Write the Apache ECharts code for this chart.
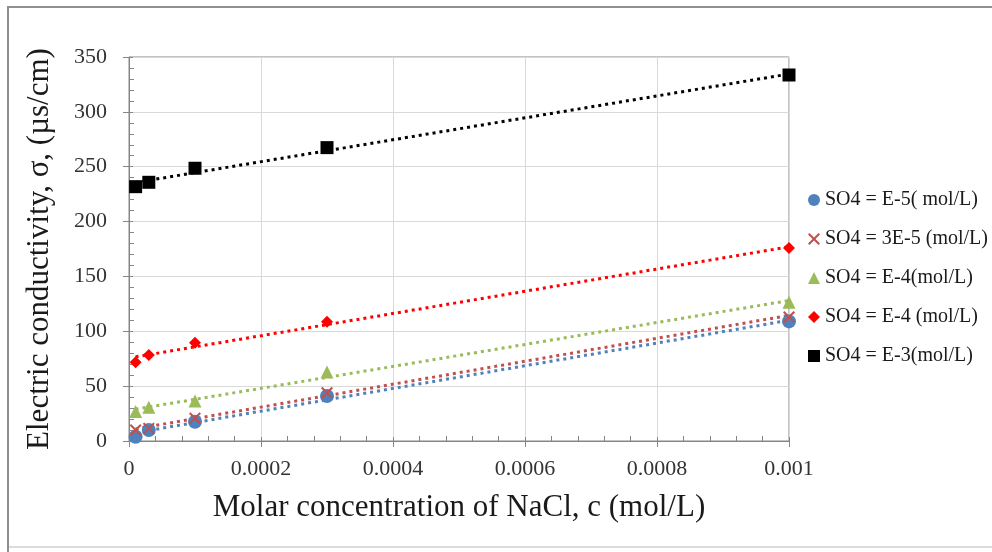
<!DOCTYPE html>
<html>
<head>
<meta charset="utf-8">
<script src="https://cdn.jsdelivr.net/npm/echarts@6/dist/echarts.min.js"></script>
<style>html,body{margin:0;padding:0;background:#fff;}#c{width:992px;height:552px;}</style>
</head>
<body>
<div id="c"></div>
<script>
// ---- data ----
var concentrations = [0.00001, 0.00003, 0.0001, 0.0003, 0.001];
var seriesNames = ['SO4 = E-5( mol/L)', 'SO4 = 3E-5 (mol/L)', 'SO4 = E-4(mol/L)', 'SO4 = E-4 (mol/L)', 'SO4 = E-3(mol/L)'];
var blueValues  = [3.9, 10, 17.6, 41, 109];
var crossValues = [10, 11.5, 20.7, 44, 113];
var greenValues = [27, 30.7, 36.5, 63, 126.5];
var redValues   = [71.7, 78.4, 89.6, 108.8, 176];
var blackValues = [231.8, 235.8, 248.6, 267.4, 333.6];
// linear trendline end values (at first and last concentration)
var trendX = [0.00001, 0.001];
var blueTrend  = [7.5, 110];
var crossTrend = [11, 114.5];
var greenTrend = [29, 128];
var redTrend   = [76.7, 177];
var blackTrend = [235.6, 334.5];
var yTicks = [0, 50, 100, 150, 200, 250, 300, 350];

var colors = ['#4f81bd', '#c0504d', '#9bbb59', '#ff0000', '#000000'];
var crossPath = 'path://M0,1.2 L1.2,0 L5,3.8 L8.8,0 L10,1.2 L6.2,5 L10,8.8 L8.8,10 L5,6.2 L1.2,10 L0,8.8 L3.8,5 Z';
var symbols = ['circle', crossPath, 'triangle', 'diamond', 'rect'];
var sizes = [14, 12, 13, 12, 13];
var values = [blueValues, crossValues, greenValues, redValues, blackValues];
var trends = [blueTrend, crossTrend, greenTrend, redTrend, blackTrend];

function pairs(xs, ys) { return xs.map(function (x, i) { return [x, ys[i]]; }); }

var series = [];
for (var i = 0; i < 5; i++) {
  series.push({
    name: seriesNames[i] + ' trend', type: 'line', data: pairs(trendX, trends[i]),
    showSymbol: false, symbol: 'none', silent: true, z: 2,
    lineStyle: { color: colors[i], width: 3, type: [3, 4], cap: 'butt' }
  });
}
for (var j = 0; j < 5; j++) {
  series.push({
    name: seriesNames[j], type: 'scatter', data: pairs(concentrations, values[j]),
    symbol: symbols[j], symbolSize: sizes[j], z: 5,
    itemStyle: { color: colors[j], opacity: 1 }
  });
}

var font = 'Liberation Serif, Times New Roman, serif';
var chart = echarts.init(document.getElementById('c'), null, { renderer: 'canvas' });
chart.setOption({
  animation: false,
  backgroundColor: '#ffffff',
  textStyle: { fontFamily: font },
  grid: { left: 129, right: 203, top: 57, bottom: 111, show: true, borderColor: '#868686', borderWidth: 1 },
  legend: {
    data: seriesNames.map(function (n, k) { return { name: n, icon: symbols[k] }; }),
    orient: 'vertical', left: 803, top: 185, itemWidth: 12, itemHeight: 12, itemGap: 19,
    textStyle: { fontFamily: font, fontSize: 20, color: '#1a1a1a' }
  },
  xAxis: [{
    type: 'value', min: 0, max: 0.001, interval: 0.0002,
    name: 'Molar concentration of NaCl, c (mol/L)', nameLocation: 'middle', nameGap: 51,
    nameTextStyle: { fontFamily: font, fontSize: 31, color: '#1a1a1a' },
    axisLine: { show: true, lineStyle: { color: '#868686', width: 1 } },
    axisTick: { show: true, inside: true, length: 4, lineStyle: { color: '#868686' } },
    minorTick: { show: true, splitNumber: 5, length: 5, lineStyle: { color: '#868686' } },
    splitLine: { show: true, lineStyle: { color: '#d9d9d9', width: 1 } },
    axisLabel: { fontFamily: font, fontSize: 22, color: '#333333', margin: 17,
      formatter: function (v) { return v === 0 ? '0' : String(+v.toFixed(4)); } }
  }, {
    type: 'value', min: 0, max: 0.001, interval: 0.0002, position: 'bottom',
    axisLine: { show: false }, axisLabel: { show: false }, splitLine: { show: false },
    axisTick: { show: true, inside: false, length: 6, lineStyle: { color: '#868686' } }
  }],
  yAxis: [{
    type: 'value', min: 0, max: 350, interval: 50,
    name: 'Electric conductivity, σ, (µs/cm)', nameLocation: 'middle', nameGap: 74,
    nameTextStyle: { fontFamily: font, fontSize: 31, color: '#1a1a1a' },
    axisLine: { show: true, lineStyle: { color: '#868686', width: 1 } },
    axisTick: { show: true, inside: true, length: 4, lineStyle: { color: '#868686' } },
    minorTick: { show: true, splitNumber: 5, length: 5, lineStyle: { color: '#868686' } },
    splitLine: { show: true, lineStyle: { color: '#d9d9d9', width: 1 } },
    axisLabel: { fontFamily: font, fontSize: 22, color: '#333333', margin: 22 }
  }, {
    type: 'value', min: 0, max: 350, interval: 50, position: 'left',
    axisLine: { show: false }, axisLabel: { show: false }, splitLine: { show: false },
    axisTick: { show: true, inside: false, length: 6, lineStyle: { color: '#868686' } }
  }],
  graphic: [
    { type: 'polyline', shape: { points: [[8, 552], [8, 7], [992, 7]] }, style: { stroke: '#8f8f8f', lineWidth: 2, fill: null }, silent: true },
    { type: 'line', shape: { x1: 9, y1: 547, x2: 992, y2: 547 }, style: { stroke: '#dcdcdc', lineWidth: 2 }, silent: true }
  ],
  series: series
});
</script>
</body>
</html>
